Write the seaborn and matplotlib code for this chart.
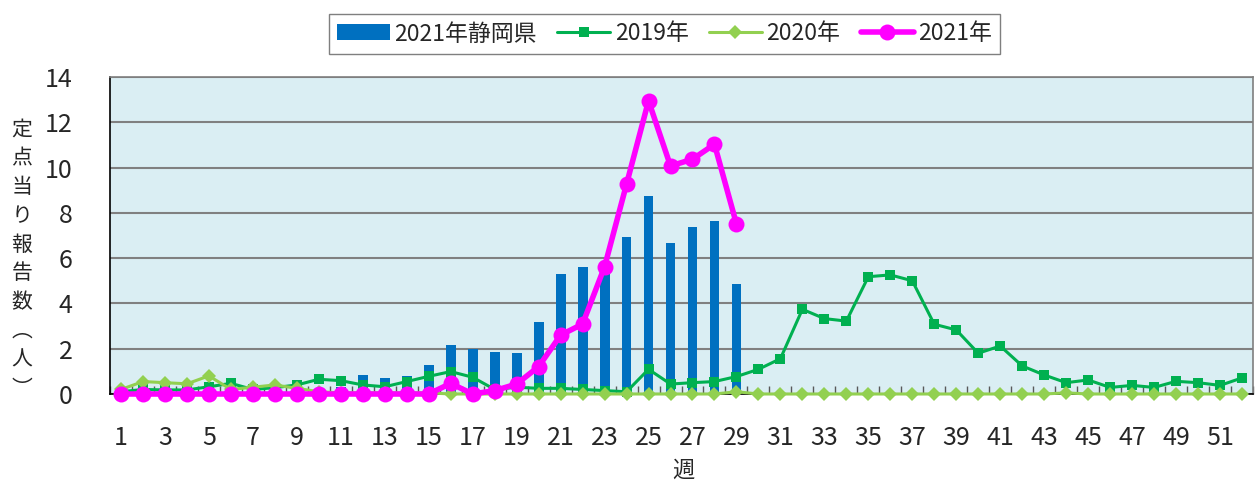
import numpy as np
import pandas as pd
import seaborn as sns
import matplotlib.pyplot as plt
from matplotlib.ticker import MultipleLocator, FixedLocator

# weekly reports per sentinel site
weeks = list(range(1, 53))
weeks_2021 = list(range(1, 30))

shizuoka_2021 = [0.1, 0.1, 0.1, 0.1, 0.15, 0.1, 0.1, 0.1, 0.15, 0.2,
                 0.3, 0.85, 0.69, 0.8, 1.28, 2.16, 1.97, 1.84, 1.80, 3.17,
                 5.29, 5.62, 5.45, 6.92, 8.75, 6.65, 7.39, 7.66, 4.86]

y2019 = [0.1, 0.2, 0.18, 0.18, 0.32, 0.47, 0.2, 0.28, 0.4, 0.65,
         0.59, 0.4, 0.32, 0.55, 0.78, 0.99, 0.74, 0.2, 0.3, 0.25,
         0.25, 0.2, 0.15, 0.1, 1.09, 0.44, 0.5, 0.55, 0.77, 1.09,
         1.56, 3.74, 3.33, 3.22, 5.18, 5.26, 5.0, 3.08, 2.83, 1.80,
         2.12, 1.24, 0.84, 0.5, 0.62, 0.29, 0.38, 0.29, 0.56, 0.5,
         0.38, 0.71]

y2020 = [0.2, 0.55, 0.5, 0.45, 0.8, 0.2, 0.3, 0.4, 0.25, 0.1,
         0.05, 0.05, 0.05, 0.05, 0.05, 0, 0, 0, 0, 0,
         0, 0, 0, 0, 0, 0, 0, 0, 0.1, 0,
         0, 0, 0, 0, 0, 0, 0, 0, 0, 0,
         0, 0, 0, 0.05, 0, 0, 0, 0, 0, 0,
         0, 0]

y2021 = [0, 0, 0, 0, 0, 0, 0, 0, 0, 0,
         0, 0, 0, 0, 0, 0.47, 0, 0.15, 0.44, 1.21,
         2.6, 3.09, 5.62, 9.27, 12.95, 10.07, 10.37, 11.03, 7.51]

legend_order = ['2021年静岡県', '2019年', '2020年', '2021年']

sns.set_style('white')
plt.rcParams['font.family'] = ['Noto Sans CJK JP', 'DejaVu Sans']

fig = plt.figure(figsize=(12.55, 4.84), dpi=100)
ax = fig.add_axes([110 / 1255, 90 / 484, 1143 / 1255, 317 / 484])
ax.set_facecolor('#DAEEF3')

sns.barplot(x=weeks_2021, y=shizuoka_2021, native_scale=True, width=0.45,
            color='#0070C0', saturation=1, linewidth=0, ax=ax,
            label='2021年静岡県', zorder=2)
sns.lineplot(x=weeks, y=y2019, color='#00B050', linewidth=2.2, marker='s',
             markersize=7.5, markeredgewidth=0, ax=ax, label='2019年',
             clip_on=False, zorder=3)
sns.lineplot(x=weeks, y=y2020, color='#92D050', linewidth=2.2, marker='D',
             markersize=7, markeredgewidth=0, ax=ax, label='2020年',
             clip_on=False, zorder=4)
sns.lineplot(x=weeks_2021, y=y2021, color='#FF00FF', linewidth=4, marker='o',
             markersize=11.5, markeredgewidth=0, ax=ax, label='2021年',
             clip_on=False, zorder=5)

if ax.get_legend() is not None:
    ax.get_legend().remove()

ax.set_xlim(0.5, 52.5)
ax.set_ylim(0, 14)
ax.yaxis.set_major_locator(MultipleLocator(2))
ax.grid(axis='y', color='#808080', linewidth=1.5, zorder=0)
ax.set_axisbelow(True)

ax.xaxis.set_major_locator(FixedLocator(list(range(1, 53, 2))))
ax.set_xticklabels([str(w) for w in range(1, 53, 2)])
ax.xaxis.set_minor_locator(FixedLocator(list(np.arange(0.5, 53, 1))))
ax.tick_params(axis='x', which='major', length=0, pad=22, labelsize=18)
ax.tick_params(axis='x', which='minor', direction='in', length=6,
               width=1, color='#595959', bottom=True)
ax.tick_params(axis='y', length=0, pad=27, labelsize=18)
for lab in ax.get_yticklabels():
    lab.set_horizontalalignment('right')

for side in ['top', 'right']:
    ax.spines[side].set_color('#7F7F7F')
    ax.spines[side].set_linewidth(1.2)
for side in ['left', 'bottom']:
    ax.spines[side].set_color('black')
    ax.spines[side].set_linewidth(1.2)

ax.set_xlabel('')
ax.set_ylabel('')
fig.text(683 / 1255, 1 - 470 / 484, '週', ha='center', va='center', fontsize=16)
fig.text(22 / 1255, 1 - 259 / 484, '\n'.join('定点当り報告数︵人︶'),
         ha='center', va='center', fontsize=15, linespacing=1.4)

handles, labels = ax.get_legend_handles_labels()
lookup = dict(zip(labels, handles))
fig.legend([lookup[k] for k in legend_order], legend_order, ncol=4,
           loc='upper center', bbox_to_anchor=(664.5 / 1255, 1 - 3 / 484),
           fontsize=16.5, frameon=True, fancybox=False, edgecolor='#7F7F7F',
           handlelength=2.3, handletextpad=0.2, columnspacing=0.9,
           borderpad=0.35, framealpha=1)

fig.savefig('out.png', dpi=100)
